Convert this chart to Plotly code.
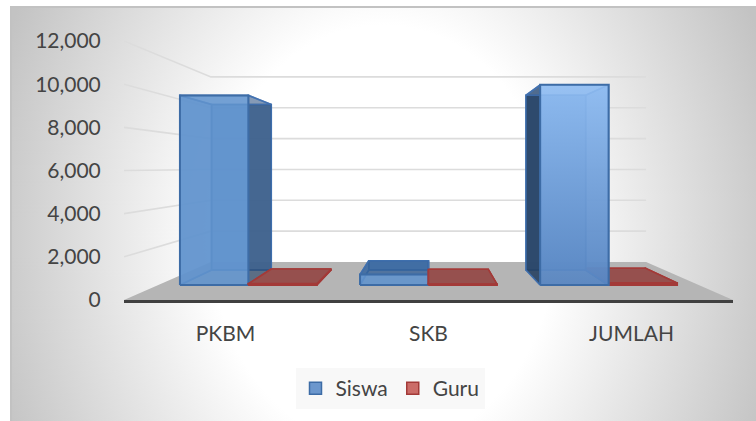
import base64
import plotly.graph_objects as go

categories = ["PKBM", "SKB", "JUMLAH"]
siswa = [9900, 550, 10450]
guru = [60, 40, 100]
y_ticks = [0, 2000, 4000, 6000, 8000, 10000, 12000]

W, H = 756, 421
X0, X1, Y0, Y1 = 124, 733, 300, 41
BACK = 0.7146            # size of back wall relative to front plane
FLOOR_RISE = 1761        # axis units the back wall's zero is lifted by
CX = 1.5                 # vanishing centre in category units
D0, D1 = 0.395, 0.79     # depth of bar front/back
GAP = 0.12               # gap each side of a category group
BW = 0.38                # bar width in category units


def pr(x, v, t):
    s = 1 - (1 - BACK) * t
    return CX + (x - CX) * s, t * FLOOR_RISE + v * s


def poly(corners):
    xs, ys = zip(*corners)
    return list(xs) + [xs[0]], list(ys) + [ys[0]]


bg = """<svg xmlns='http://www.w3.org/2000/svg' width='746' height='420' viewBox='0 0 746 420' preserveAspectRatio='none'>
<defs><radialGradient id='g' cx='0' cy='0' r='1' gradientUnits='objectBoundingBox' gradientTransform='translate(0.5 0.55) scale(0.55 1.2)'>
<stop offset='0' stop-color='#ffffff'/><stop offset='0.42' stop-color='#ffffff'/>
<stop offset='1' stop-color='#c3c3c3'/></radialGradient></defs>
<rect x='0' y='0' width='746' height='420' fill='url(#g)'/>
<path d='M1,420 L1,1 L746,1' fill='none' stroke='#c2c2c2' stroke-width='2'/></svg>"""
bg_uri = "data:image/svg+xml;base64," + base64.b64encode(bg.encode()).decode()

shapes = []
# floor
fx, fy = poly([pr(0, 0, 0), pr(3, 0, 0), pr(3, 0, 1), pr(0, 0, 1)])
shapes.append(dict(type="path", layer="below", xref="x", yref="y",
                   path="M" + " L".join(f"{a},{b}" for a, b in zip(fx, fy)) + " Z",
                   fillcolor="#b5b5b5", line=dict(width=0)))
# gridlines: side wall and back wall
for v in y_ticks[1:]:
    a, b, c = pr(0, v, 0), pr(0, v, 1), pr(3, v, 1)
    shapes.append(dict(type="path", layer="below", xref="x", yref="y",
                       path=f"M{a[0]},{a[1]} L{b[0]},{b[1]} L{c[0]},{c[1]}",
                       line=dict(color="#dcdcdc", width=1.6)))

fig = go.Figure()


def face(corners, fill, line, gradient=None, width=1.6):
    xs, ys = poly(corners)
    kw = dict(fillgradient=gradient) if gradient else dict(fillcolor=fill)
    fig.add_trace(go.Scatter(x=xs, y=ys, mode="lines", fill="toself", showlegend=False,
                             hoverinfo="skip", line=dict(color=line, width=width), **kw))


series = [
    ("Siswa", siswa, 0, "rgba(92,140,200,0.9)", "#3d6ca6"),
    ("Guru", guru, 1, "rgba(200,100,96,0.95)", "#a33a38"),
]

# back faces, through the bar trace so the legend keys come from them
for name, vals, j, col, edge in series:
    bx, bb, bh = [], [], []
    for i, v in enumerate(vals):
        left = i + GAP + j * BW
        bl = pr(left, 0, D1)
        tr = pr(left + BW, v, D1)
        bx.append((bl[0] + tr[0]) / 2)
        bb.append(bl[1])
        bh.append(tr[1] - bl[1])
    w = BW * (1 - (1 - BACK) * D1)
    fig.add_trace(go.Bar(x=bx, y=bh, base=bb, width=w, name=name, hoverinfo="skip",
                         marker=dict(color=col, line=dict(color=edge, width=1.5))))

# remaining faces: bars farthest from the vanishing centre are painted first
solids = []
for name, vals, j, col, edge in series:
    for i, v in enumerate(vals):
        solids.append((abs(i + GAP + j * BW + BW / 2 - CX), name, i, j, v, edge))
solids.sort(key=lambda s: -s[0])

for _, name, i, j, v, edge in solids:
    l = i + GAP + j * BW
    r = l + BW
    if name == "Siswa":
        inner = "rgba(35,60,90,%s)" % (0.84 if i == 2 else 0.52)
        outer = "rgba(90,140,205,0.62)"
        top = "rgba(50,95,150,0.70)" if v < 5000 else "rgba(110,160,225,0.25)"
        line = "rgba(64,112,175,0.85)"
    else:
        inner = outer = "rgba(150,70,70,0.55)"
        top = "#96504e"
        line = "#a33a38"
    left_col = inner if (l + r) / 2 > CX else outer
    right_col = inner if (l + r) / 2 < CX else outer
    face([pr(l, 0, D0), pr(r, 0, D0), pr(r, 0, D1), pr(l, 0, D1)], "rgba(90,130,180,0.3)", line)
    face([pr(l, 0, D0), pr(l, v, D0), pr(l, v, D1), pr(l, 0, D1)], left_col, line)
    face([pr(r, 0, D0), pr(r, v, D0), pr(r, v, D1), pr(r, 0, D1)], right_col, line)
    face([pr(l, v, D0), pr(r, v, D0), pr(r, v, D1), pr(l, v, D1)], top, line)
    front = [pr(l, 0, D0), pr(r, 0, D0), pr(r, v, D0), pr(l, v, D0)]
    if name == "Siswa" and v > 10000:
        face(front, None, edge, dict(type="vertical", colorscale=[[0, "rgba(88,134,194,0.9)"], [1, "rgba(145,190,243,0.9)"]]), 2)
    elif name == "Siswa":
        face(front, "rgba(98,148,206,0.85)", edge, None, 2)
    else:
        face(front, "rgba(190,80,76,0.9)", edge, None, 2)

fig.update_layout(
    width=W, height=H, autosize=False,
    margin=dict(l=X0, r=W - X1, t=Y1, b=H - Y0, pad=0),
    paper_bgcolor="white", plot_bgcolor="rgba(0,0,0,0)",
    barmode="overlay", shapes=shapes,
    font=dict(family="Lato, 'Open Sans', sans-serif", size=21, color="#444444"),
    images=[dict(source=bg_uri, xref="paper", yref="paper", layer="below", sizing="stretch",
                 x=(10 - X0) / (X1 - X0), y=(Y0 - 6) / (Y0 - Y1),
                 sizex=746 / (X1 - X0), sizey=420 / (Y0 - Y1), xanchor="left", yanchor="top")],
    xaxis=dict(range=[0, 3], tickvals=[0.5, 1.5, 2.5], ticktext=categories, showgrid=False,
               zeroline=False, showline=True, linecolor="#404040", linewidth=3,
               ticks="outside", ticklen=13, tickcolor="rgba(0,0,0,0)", tickfont=dict(size=21)),
    yaxis=dict(range=[0, 12000], tickvals=y_ticks, tickformat=",d", showgrid=False, zeroline=False,
               showline=False, ticks="outside", ticklen=18, tickcolor="rgba(0,0,0,0)"),
    legend=dict(orientation="h", x=390 / 756, y=12 / 421, xref="container", yref="container",
                xanchor="center", yanchor="bottom", bgcolor="rgba(247,247,247,0.9)",
                font=dict(size=21), traceorder="normal", itemwidth=30),
)
fig.write_html("out.html", post_script="document.body.style.margin='0';",
               config={"displayModeBar": False})
